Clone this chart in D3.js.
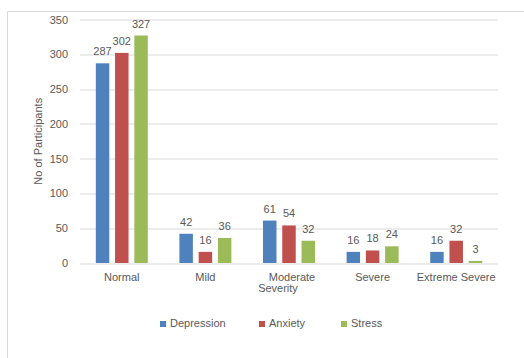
<!DOCTYPE html>
<html>
<head>
<meta charset="utf-8">
<script src="https://cdn.jsdelivr.net/npm/d3@7"></script>
<style>
  body { margin: 0; background: #fff; }
  text { font-family: "Liberation Sans", Arial, sans-serif; fill: #595959; }
</style>
</head>
<body>
<svg width="524" height="358"></svg>
<script>
const categories = ["Normal", "Mild", "Moderate Severity", "Severe", "Extreme Severe"];
const seriesNames = ["Depression", "Anxiety", "Stress"];
const depression = [287, 42, 61, 16, 16];
const anxiety = [302, 16, 54, 18, 32];
const stress = [327, 36, 32, 24, 3];
const yTicks = [0, 50, 100, 150, 200, 250, 300, 350];
const colors = ["#4f81bd", "#c0504d", "#9bbb59"];

const svg = d3.select("svg");

// chart frame
svg.append("path")
  .attr("d", "M7.5,358 V11.5 H524")
  .attr("fill", "none")
  .attr("stroke", "#d9d9d9");

const margin = { top: 19.5, left: 80, right: 26, bottom: 95 };
const innerWidth = 524 - margin.left - margin.right;
const innerHeight = 263 - margin.top;

const g = svg.append("g")
  .attr("transform", `translate(${margin.left},${margin.top})`);

const xScale = d3.scaleBand().domain(categories).range([0, innerWidth]);
const yScale = d3.scaleLinear().domain([0, 350]).range([innerHeight, 0]);
const xInner = d3.scaleBand().domain(seriesNames)
  .range([0, 52]).paddingInner(0.3);

// gridlines
g.selectAll(".grid")
  .data(yTicks)
  .join("line")
  .attr("x1", 0)
  .attr("x2", innerWidth)
  .attr("y1", (d) => Math.round(yScale(d)) + 0.5)
  .attr("y2", (d) => Math.round(yScale(d)) + 0.5)
  .attr("stroke", "#d9d9d9");

const yAxis = d3.axisLeft(yScale).tickValues(yTicks).tickSize(0).tickPadding(12);
const yAxisG = g.append("g").call(yAxis);
yAxisG.select(".domain").remove();
yAxisG.selectAll("text").style("font-size", "11px").attr("fill", "#595959");

g.append("text")
  .attr("transform", `translate(-38,${innerHeight / 2}) rotate(-90)`)
  .attr("text-anchor", "middle")
  .style("font-size", "11px")
  .text("No of Participants");

// category labels
const labelLines = (c) => c === "Moderate Severity" ? ["Moderate", "Severity"] : [c];
const xLabels = g.selectAll(".xlab")
  .data(categories)
  .join("text")
  .attr("x", (d) => xScale(d) + xScale.bandwidth() / 2)
  .attr("y", innerHeight + 18)
  .attr("text-anchor", "middle")
  .style("font-size", "11px");
xLabels.each(function (d) {
  const lines = labelLines(d);
  d3.select(this).selectAll("tspan")
    .data(lines)
    .join("tspan")
    .attr("x", xScale(d) + xScale.bandwidth() / 2)
    .attr("dx", (l, i) => lines.length > 1 ? (i === 0 ? 3 : -11) : 0)
    .attr("dy", (l, i) => i === 0 ? 0 : 11)
    .text((l) => l);
});

const values = [depression, anxiety, stress];
const groups = g.selectAll(".grp")
  .data(categories)
  .join("g")
  .attr("transform", (d) => `translate(${xScale(d) + xScale.bandwidth() / 2 - 26},0)`);

groups.each(function (c, ci) {
  const grp = d3.select(this);
  const rows = seriesNames.map((s, si) => ({ s, si, v: values[si][ci] }));
  grp.selectAll("rect")
    .data(rows)
    .join("rect")
    .attr("x", (d) => xInner(d.s))
    .attr("width", xInner.bandwidth())
    .attr("y", (d) => yScale(d.v))
    .attr("height", (d) => innerHeight - yScale(d.v))
    .attr("fill", (d) => colors[d.si]);
  grp.selectAll("text")
    .data(rows)
    .join("text")
    .attr("x", (d) => xInner(d.s) + xInner.bandwidth() / 2)
    .attr("y", (d) => yScale(d.v) - 8)
    .attr("text-anchor", "middle")
    .style("font-size", "11px")
    .text((d) => d.v);
});

// legend
const legendX = [160, 259, 341];
const legend = svg.selectAll(".leg")
  .data(seriesNames)
  .join("g")
  .attr("transform", (d, i) => `translate(${legendX[i]},327)`);
legend.append("rect")
  .attr("x", 0).attr("y", -6)
  .attr("width", 6).attr("height", 6)
  .attr("fill", (d, i) => colors[i]);
legend.append("text")
  .attr("x", 10).attr("y", 0)
  .style("font-size", "11px")
  .text((d) => d);
</script>
</body>
</html>
